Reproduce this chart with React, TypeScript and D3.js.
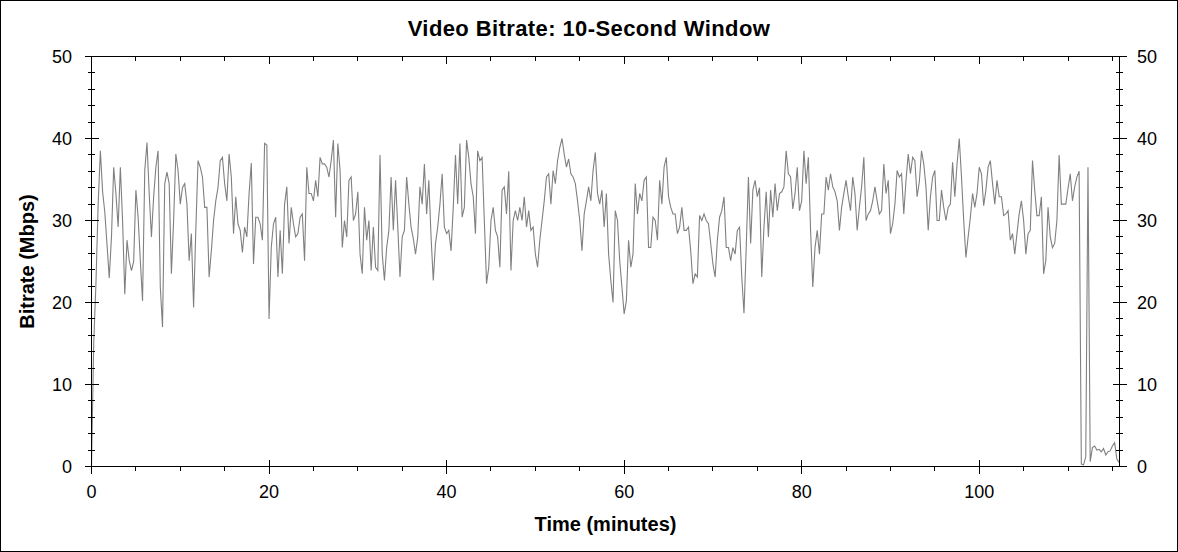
import { useEffect, useRef } from "react";
import * as d3 from "d3";

// Samples every 15 s (0.25 min)
const STEP_MINUTES = 0.25;
const BITRATE_MBPS = [
  0, 15, 22.3, 32, 38.5, 33.5, 31, 27, 23, 28,
  36.5, 33.3, 29.2, 36.5, 30, 21, 27.6, 25.1, 23.9, 25,
  33.7, 30.4, 25.1, 20.2, 36.1, 39.5, 33.3, 28, 32.9, 36.5,
  38.5, 21.9, 17, 34.5, 35.9, 34.5, 23.5, 30, 38.1, 36.1,
  32, 34, 34.5, 32, 25.1, 28.4, 19.4, 28.8, 37.3, 36.5,
  35.3, 31.6, 31.6, 23.1, 26.3, 30, 32.4, 34, 37.3, 37.7,
  34.5, 32.4, 38.1, 35.3, 28.4, 32.9, 29.6, 28.8, 26.1, 29.2,
  28, 33.3, 37, 24.7, 30.4, 30.4, 29.6, 27.6, 39.4, 39.2,
  18, 26.7, 29.6, 30.4, 23.1, 28.8, 23.5, 32, 34.1, 27.2,
  31.6, 29.6, 28, 28.4, 30.4, 30.8, 25.1, 36.5, 33.3, 33.3,
  32.4, 34.9, 32.9, 37.7, 36.9, 36.9, 36.5, 35.3, 37.3, 39.8,
  30.4, 39.4, 36.1, 26.7, 30, 28, 34.9, 35.3, 30, 30.8,
  33.5, 25.9, 23.5, 31.6, 27.6, 30, 23.9, 29.2, 24.3, 23.9,
  38, 25.9, 22.7, 26.7, 28.8, 35.3, 28.8, 34.9, 29.2, 23.1,
  28, 28.8, 35.3, 32, 29.2, 27.8, 25.9, 28, 34.1, 32,
  36.9, 30.8, 34.9, 28, 22.7, 27.2, 29.2, 32, 35.7, 29.2,
  28.4, 28.8, 26.3, 31.6, 38, 32, 39.4, 30.4, 31.6, 39.8,
  37.7, 34.5, 32.9, 28.4, 38.5, 37.3, 37.7, 30, 22.3, 24.3,
  30, 31.6, 28.8, 28, 24.3, 33.7, 34.1, 30.8, 36, 23.9,
  30, 31.2, 30, 31.6, 30, 32.9, 29.2, 31.2, 28.8, 29.2,
  25.9, 24.3, 27.6, 30, 32.4, 35.3, 35.7, 32, 36.1, 34.5,
  37.3, 38.9, 40, 38.1, 36.5, 37.5, 35.7, 35.3, 34.5, 32.4,
  30, 26.3, 30.8, 32.4, 34.1, 32.4, 36.1, 38.3, 33.3, 32,
  33.7, 29.2, 33.3, 25.9, 22.7, 20, 31.2, 30, 25.1, 21.9,
  18.6, 20.2, 27.6, 24.3, 25.9, 34.5, 30.8, 33.3, 32.4, 34.9,
  35.3, 26.7, 26.7, 30.4, 30, 27.6, 34.9, 32, 36.5, 37.7,
  32.9, 31.6, 30.8, 30.8, 28.4, 29.2, 31.6, 28.8, 28.8, 29.2,
  26.3, 22.3, 23.5, 23.1, 30.6, 30, 30.8, 30, 29.6, 27.2,
  24.7, 23.1, 27.6, 30.4, 31.2, 32.9, 26.7, 26.7, 25.1, 26.7,
  25.9, 28.8, 29.2, 23.1, 18.7, 26.7, 35.3, 27.2, 33.7, 34.9,
  32.9, 34, 23.1, 29.2, 33.5, 28, 33.7, 30.4, 34.5, 31.2,
  33.3, 33.5, 34.1, 38.5, 35.7, 35.3, 31.4, 33.3, 36.5, 31.2,
  32.4, 38.5, 34.5, 37.7, 28.8, 21.9, 26.7, 28.8, 25.9, 30.8,
  30.8, 35.3, 33.7, 35.7, 34.1, 33.5, 32.4, 28.8, 31.6, 33.3,
  34.9, 32.9, 31.2, 35.3, 33.3, 28.8, 31.6, 34.1, 37.7, 30,
  30.8, 31.2, 32.4, 34.1, 32.4, 30.8, 31.2, 36.9, 33.3, 34.9,
  28.4, 29.6, 32, 36.1, 35.3, 35.7, 30.8, 34.9, 38.1, 35.7,
  37.7, 37.3, 32.9, 34.7, 38.5, 36.9, 34.1, 28.8, 32.9, 35.3,
  36.1, 30, 30, 33.7, 31.6, 30, 31.6, 32, 37.1, 32.9,
  36.9, 40, 35.3, 30, 25.5, 28, 30.4, 33.3, 31.6, 33.3,
  36.5, 35.7, 31.8, 33.7, 36.5, 37.3, 34.5, 32, 34.9, 32.9,
  32.9, 30.6, 30.8, 31.2, 27.6, 28.4, 25.9, 28.4, 30.8, 32.4,
  30, 25.9, 28.4, 28.8, 37.3, 33.7, 30.6, 30.6, 32.9, 23.5,
  25.1, 31.6, 28, 26.7, 27.2, 30, 38, 32, 32, 32,
  33.9, 35.7, 32.4, 34.1, 35.3, 36, 0.3, 0.2, 1.2, 36.5,
  0.6, 2.3, 2.5, 2.0, 2.1, 1.8, 2.2, 1.4, 1.8, 1.9,
  2.5, 2.9, 0.9, 0.5,
];

const X_MAX_MINUTES = 115.8;
const Y_MAX_MBPS = 50;
const X_MAJOR_STEP = 20;
const X_MINOR_STEP = 5;
const Y_MAJOR_STEP = 10;
const Y_MINOR_STEP = 2;

const TITLE = "Video Bitrate: 10-Second Window";
const X_LABEL = "Time (minutes)";
const Y_LABEL = "Bitrate (Mbps)";

const W = 1178;
const H = 552;
const FONT = "Arial, 'Liberation Sans', sans-serif";

export default function App() {
  const svgRef = useRef<SVGSVGElement>(null);

  useEffect(() => {
    document.body.style.margin = "0";
    const svg = d3.select(svgRef.current);
    svg.selectAll("*").remove();

    const left = 91.5, right = 1119.5, top = 56.5, bottom = 466.5;
    const x = d3.scaleLinear().domain([0, X_MAX_MINUTES]).range([left, right]);
    const y = d3.scaleLinear().domain([0, Y_MAX_MBPS]).range([bottom, top]);

    svg.append("rect")
      .attr("x", 0.5).attr("y", 0.5).attr("width", W - 1).attr("height", H - 1)
      .attr("fill", "#fff").attr("stroke", "#000");

    // data line
    const line = d3.line<number>()
      .x((_d, i) => x(i * STEP_MINUTES))
      .y((d) => y(d));
    svg.append("path")
      .datum(BITRATE_MBPS)
      .attr("d", line)
      .attr("fill", "none")
      .attr("stroke", "#808080")
      .attr("stroke-width", 1.1)
      .attr("stroke-linejoin", "miter");

    const g = svg.append("g").attr("stroke", "#000").attr("stroke-width", 1).attr("shape-rendering", "crispEdges");

    // frame lines
    g.append("line").attr("x1", left).attr("x2", left).attr("y1", top).attr("y2", bottom);
    g.append("line").attr("x1", right).attr("x2", right).attr("y1", top).attr("y2", bottom);
    g.append("line").attr("x1", left - 7).attr("x2", right + 7).attr("y1", bottom).attr("y2", bottom);
    g.append("line").attr("x1", left).attr("x2", right).attr("y1", top).attr("y2", top);

    // y ticks (both sides, crossing the axis)
    const yMajor = d3.range(0, Y_MAX_MBPS + 0.01, Y_MAJOR_STEP);
    const yMinor = d3.range(0, Y_MAX_MBPS + 0.01, Y_MINOR_STEP).filter((v) => v % Y_MAJOR_STEP !== 0);
    for (const v of yMajor) {
      const yy = Math.round(y(v) - 0.5) + 0.5;
      g.append("line").attr("x1", left - 7).attr("x2", left + 7).attr("y1", yy).attr("y2", yy);
      g.append("line").attr("x1", right - 7).attr("x2", right + 7).attr("y1", yy).attr("y2", yy);
    }
    for (const v of yMinor) {
      const yy = Math.round(y(v) - 0.5) + 0.5;
      g.append("line").attr("x1", left - 3.5).attr("x2", left + 3.5).attr("y1", yy).attr("y2", yy);
      g.append("line").attr("x1", right - 3.5).attr("x2", right + 3.5).attr("y1", yy).attr("y2", yy);
    }

    // x ticks
    const xMajor = d3.range(0, X_MAX_MINUTES, X_MAJOR_STEP);
    const xMinor = d3.range(0, X_MAX_MINUTES, X_MINOR_STEP).filter((v) => v % X_MAJOR_STEP !== 0);
    for (const v of xMajor) {
      const xx = Math.round(x(v) - 0.5) + 0.5;
      g.append("line").attr("x1", xx).attr("x2", xx).attr("y1", bottom - 7).attr("y2", bottom + 7);
      g.append("line").attr("x1", xx).attr("x2", xx).attr("y1", top).attr("y2", top + 7);
    }
    for (const v of xMinor) {
      const xx = Math.round(x(v) - 0.5) + 0.5;
      g.append("line").attr("x1", xx).attr("x2", xx).attr("y1", bottom).attr("y2", bottom + 4);
      g.append("line").attr("x1", xx).attr("x2", xx).attr("y1", top).attr("y2", top + 4);
    }

    const txt = svg.append("g").attr("font-family", FONT).attr("fill", "#000");

    // tick labels
    for (const v of yMajor) {
      txt.append("text").attr("x", 72).attr("y", y(v)).attr("dy", "0.36em")
        .attr("text-anchor", "end").attr("font-size", 18).text(String(v));
      txt.append("text").attr("x", 1137).attr("y", y(v)).attr("dy", "0.36em")
        .attr("text-anchor", "start").attr("font-size", 18).text(String(v));
    }
    for (const v of xMajor) {
      txt.append("text").attr("x", x(v)).attr("y", 498)
        .attr("text-anchor", "middle").attr("font-size", 18).text(String(v));
    }

    // titles
    txt.append("text").attr("x", 589).attr("y", 36)
      .attr("text-anchor", "middle").attr("font-size", 22).attr("font-weight", "bold")
      .attr("letter-spacing", "0.4px").text(TITLE);
    txt.append("text").attr("x", (left + right) / 2).attr("y", 531)
      .attr("text-anchor", "middle").attr("font-size", 20).attr("font-weight", "bold")
      .text(X_LABEL);
    txt.append("text")
      .attr("transform", `translate(34,${(top + bottom) / 2}) rotate(-90)`)
      .attr("text-anchor", "middle").attr("font-size", 20).attr("font-weight", "bold")
      .text(Y_LABEL);
  }, []);

  return <svg ref={svgRef} width={W} height={H} style={{ display: "block" }} />;
}
